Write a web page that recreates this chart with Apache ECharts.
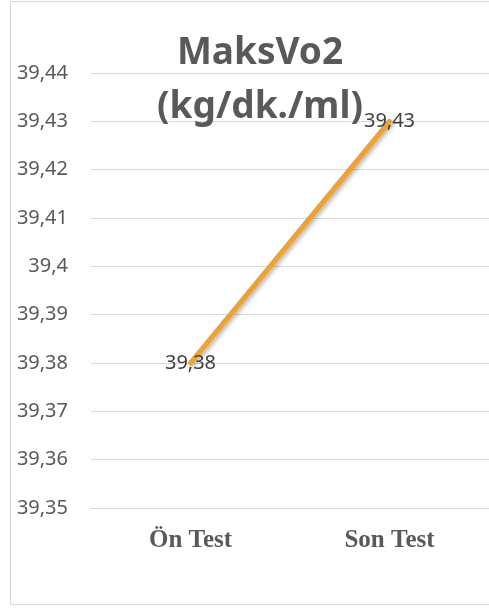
<!DOCTYPE html>
<html><head><meta charset="utf-8">
<script src="https://cdn.jsdelivr.net/npm/echarts@6/dist/echarts.min.js"></script>
<style>html,body{margin:0;padding:0;background:#fff}#c{width:489px;height:608px}</style>
</head><body><div id="c"></div>
<script>
const categories = ["Ön Test", "Son Test"];
const values = [39.38, 39.43];
const yMin = 39.35, yMax = 39.44, yStep = 0.01;
const titleText = "MaksVo2\n(kg/dk./ml)";
const fmt = v => (Math.round(v * 100) / 100).toString().replace('.', ',');

const chart = echarts.init(document.getElementById('c'), null, {renderer: 'canvas'});
chart.setOption({
  animation: false,
  backgroundColor: '#fff',
  graphic: [{type: 'rect', shape: {x: 10.5, y: 1.5, width: 490, height: 603}, style: {fill: 'none', stroke: '#d9d9d9', lineWidth: 1}, z: -1}],
  title: {
    text: titleText, left: 255, top: 21, textAlign: 'center',
    textStyle: {fontFamily: 'Noto Sans', fontWeight: 'bold', fontSize: 37, lineHeight: 54, color: '#595959'}
  },
  grid: {left: 91, right: -10, top: 73, bottom: 100},
  xAxis: {
    type: 'category', data: categories, boundaryGap: true,
    axisLine: {show: true, lineStyle: {color: '#d9d9d9'}}, axisTick: {show: false},
    axisLabel: {fontFamily: 'Liberation Serif', fontWeight: 'bold', fontSize: 25, color: '#595959', margin: 20}
  },
  yAxis: {
    type: 'value', min: yMin, max: yMax, interval: yStep,
    axisLine: {show: false}, axisTick: {show: false},
    splitLine: {lineStyle: {color: '#d9d9d9', width: 1}},
    axisLabel: {fontFamily: 'Noto Sans', fontSize: 20, color: '#595959', margin: 23, formatter: fmt}
  },
  series: [{
    type: 'line', data: values, symbol: 'circle', symbolSize: 1,
    itemStyle: {color: '#f0a22e'},
    lineStyle: {color: '#f0a22e', width: 5, cap: 'round', shadowColor: 'rgba(0,0,0,0.3)', shadowBlur: 4, shadowOffsetX: 2, shadowOffsetY: 2},
    label: {show: true, position: 'inside', fontFamily: 'Noto Sans', fontSize: 20, color: '#404040', formatter: p => fmt(p.value)}
  }]
});
</script></body></html>
